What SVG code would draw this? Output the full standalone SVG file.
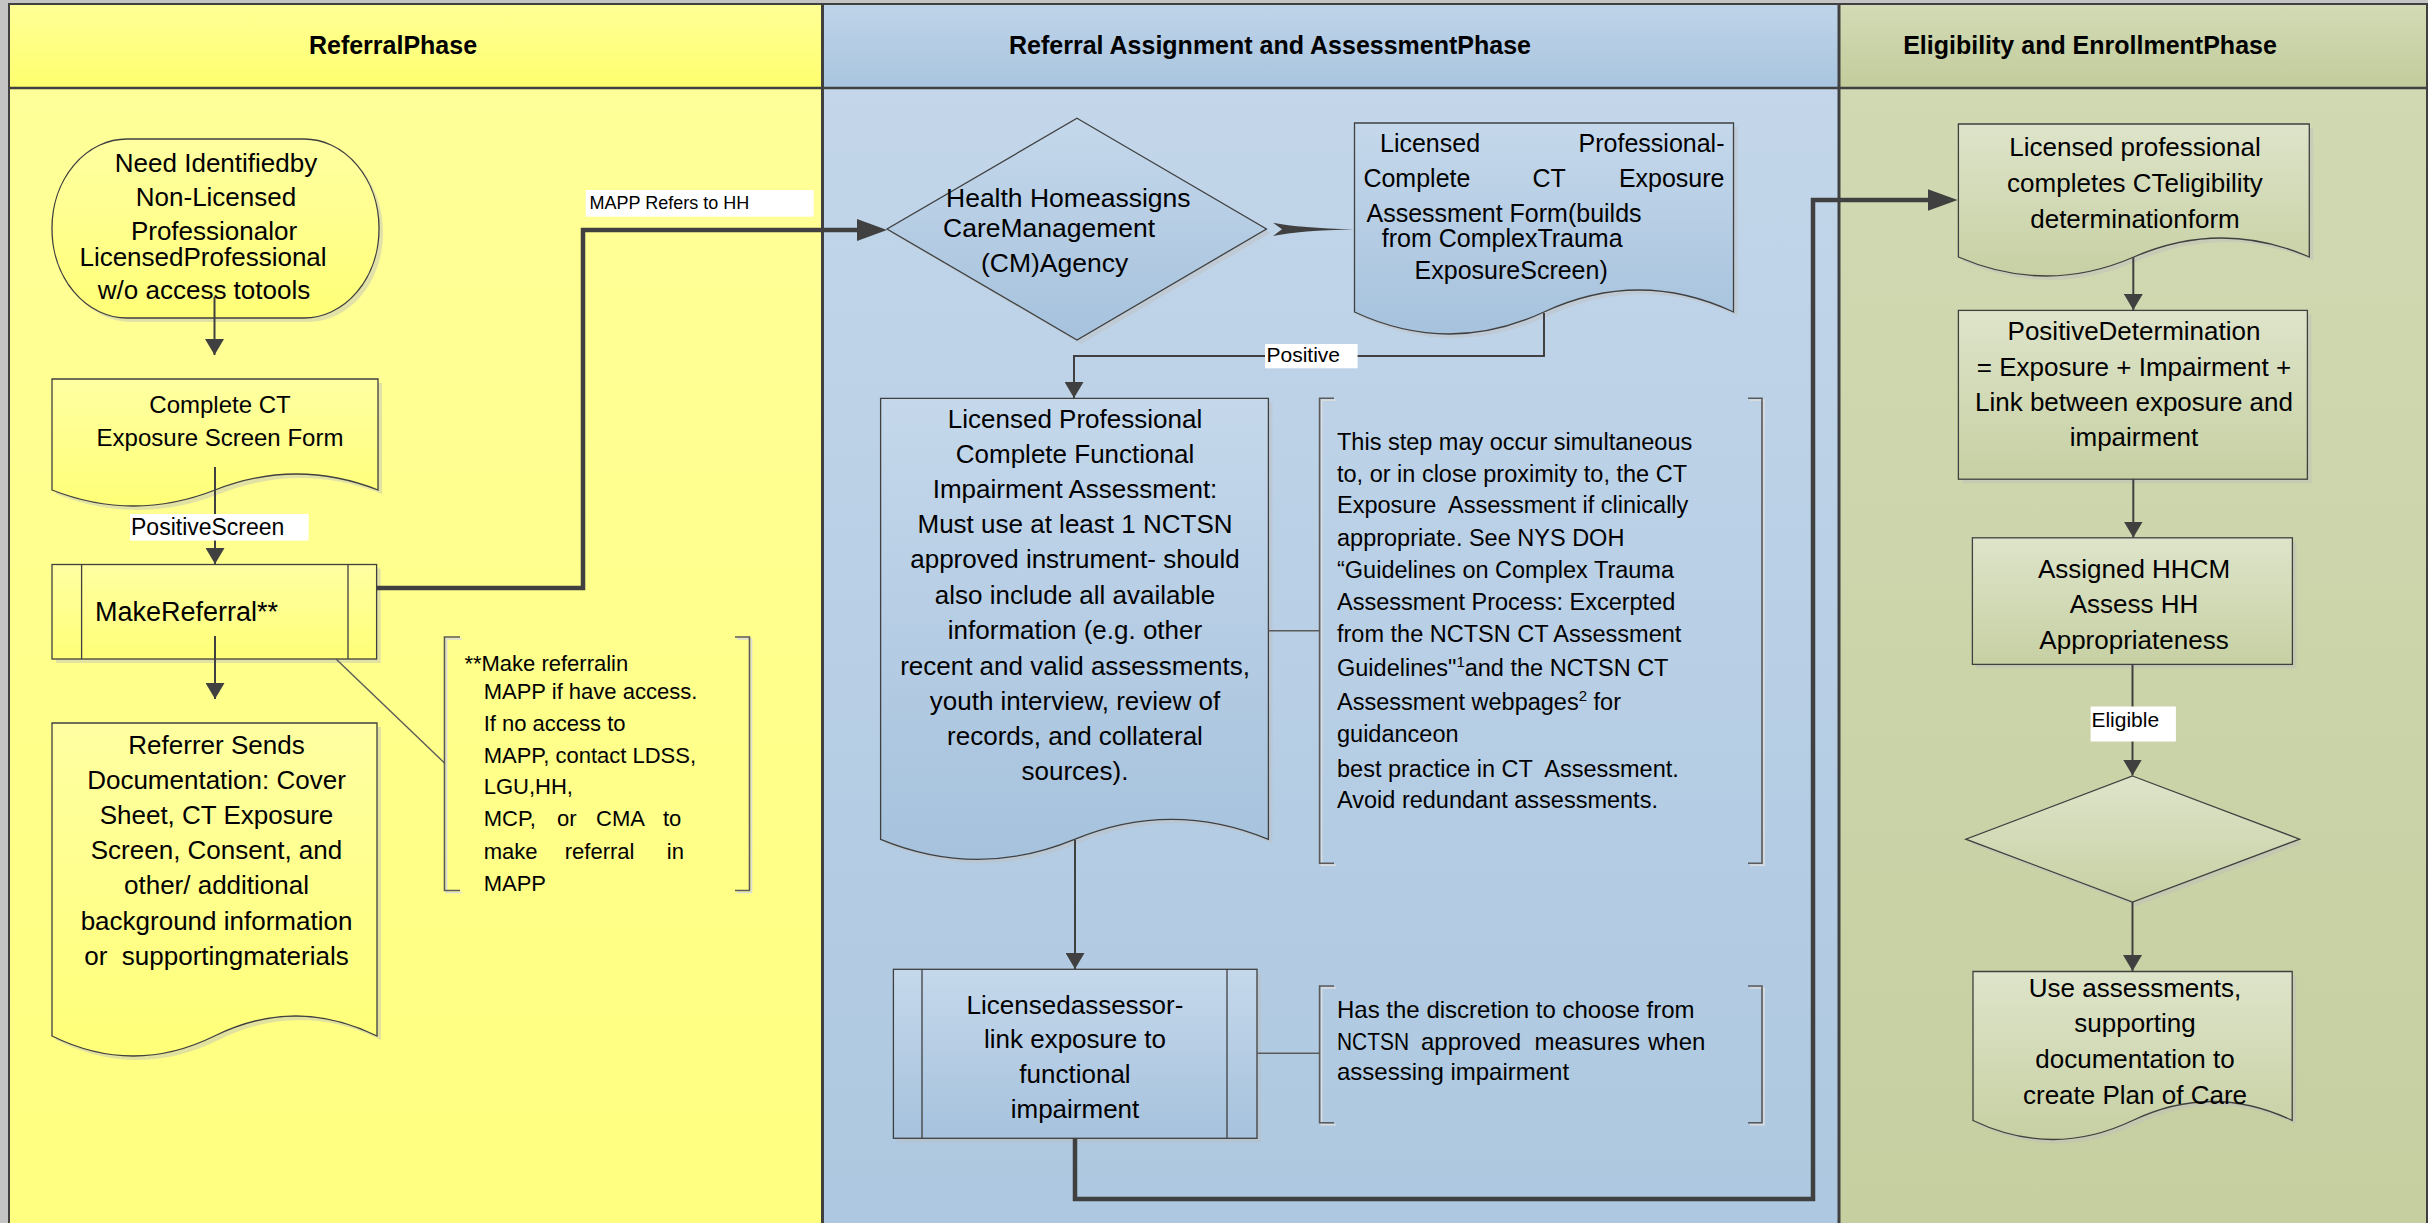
<svg xmlns="http://www.w3.org/2000/svg" width="2428" height="1223" viewBox="0 0 2428 1223">
<defs>
<style>
.t{font-family:"Liberation Sans",Arial,sans-serif;fill:#000}
.h{font-weight:bold;font-size:25px}
.m{text-anchor:middle}
.e{text-anchor:end}
.node{stroke:#404040;stroke-width:1.3}
.sh{fill:#BEBEBE;opacity:.45;stroke:none}
.ln{fill:none;stroke:#404040;stroke-width:2}
.thick{fill:none;stroke:#404040;stroke-width:4.5}
.thin{fill:none;stroke:#5A5A5A;stroke-width:1.4}
.br{fill:none;stroke:#5A5A5A;stroke-width:1.6}
.brs{fill:none;stroke:#DDDDDD;stroke-width:1.6}
.lbl{fill:#fff}
.bd{stroke:#404040;fill:none}
</style>
<linearGradient id="yH" x1="0" y1="0" x2="0" y2="1"><stop offset="0" stop-color="#FFFF96"/><stop offset="1" stop-color="#FFFF6E"/></linearGradient>
<linearGradient id="yB" x1="0" y1="0" x2="0" y2="1"><stop offset="0" stop-color="#FFFF99"/><stop offset="1" stop-color="#FFFF80"/></linearGradient>
<linearGradient id="bH" x1="0" y1="0" x2="0" y2="1"><stop offset="0" stop-color="#BFD4E9"/><stop offset="1" stop-color="#A9C5DF"/></linearGradient>
<linearGradient id="bB" x1="0" y1="0" x2="0" y2="1"><stop offset="0" stop-color="#C3D6EA"/><stop offset="1" stop-color="#ADC8E0"/></linearGradient>
<linearGradient id="gH" x1="0" y1="0" x2="0" y2="1"><stop offset="0" stop-color="#D3DBB6"/><stop offset="1" stop-color="#C2CC9B"/></linearGradient>
<linearGradient id="gB" x1="0" y1="0" x2="0" y2="1"><stop offset="0" stop-color="#D1D9B3"/><stop offset="1" stop-color="#C6CFA0"/></linearGradient>
<linearGradient id="yN" x1="0" y1="0" x2="0" y2="1"><stop offset="0" stop-color="#FFFFA2"/><stop offset="1" stop-color="#FFFF78"/></linearGradient>
<linearGradient id="bN" x1="0" y1="0" x2="0" y2="1"><stop offset="0" stop-color="#C5D8EB"/><stop offset="1" stop-color="#A6C2DD"/></linearGradient>
<linearGradient id="gN" x1="0" y1="0" x2="0" y2="1"><stop offset="0" stop-color="#DEE4CA"/><stop offset="1" stop-color="#C7D0A3"/></linearGradient>
<marker id="ah" markerUnits="userSpaceOnUse" viewBox="0 0 16 19" markerWidth="16" markerHeight="19" refX="16" refY="9.5" orient="auto"><path d="M0,0 L16,9.5 L0,19 Z" fill="#404040"/></marker>
<marker id="ahb" markerUnits="userSpaceOnUse" viewBox="0 0 30 22" markerWidth="30" markerHeight="22" refX="15" refY="11" orient="auto"><path d="M0,0 L30,11 L0,22 Z" fill="#404040"/></marker>
</defs>

<!-- background and lanes -->
<g id="lanes">
<rect x="0" y="0" width="2428" height="1223" fill="#C4C4C4"/>
<rect x="9" y="4" width="813" height="84" fill="url(#yH)"/>
<rect x="9" y="88" width="813" height="1135" fill="url(#yB)"/>
<rect x="822" y="4" width="1017" height="84" fill="url(#bH)"/>
<rect x="822" y="88" width="1017" height="1135" fill="url(#bB)"/>
<rect x="1839" y="4" width="1589" height="84" fill="url(#gH)"/>
<rect x="1839" y="88" width="1589" height="1135" fill="url(#gB)"/>
<path class="bd" stroke-width="2" d="M8,4 H2428"/>
<path class="bd" stroke-width="2" d="M9,4 V1223"/>
<path class="bd" stroke-width="2.5" d="M9,88 H2428"/>
<path class="bd" stroke-width="3" d="M822.5,4 V1223"/>
<path class="bd" stroke-width="3" d="M1839,4 V1223"/>
<path class="bd" stroke-width="2" d="M2427,4 V1223"/>
<text class="t h m" x="393" y="54">ReferralPhase</text>
<text class="t h m" x="1270" y="54">Referral Assignment and AssessmentPhase</text>
<text class="t h m" x="2090" y="54">Eligibility and EnrollmentPhase</text>
</g>

<!-- Lane 1 nodes -->
<g id="need-identified">
<rect class="sh" x="56" y="143" width="327" height="179" rx="75" ry="89"/>
<rect class="node" fill="url(#yN)" x="52" y="139" width="327" height="179" rx="75" ry="89"/>
<g class="t" font-size="26">
<text class="m" x="216" y="172">Need Identifiedby</text>
<text class="m" x="216" y="206">Non-Licensed</text>
<text class="m" x="214" y="240">Professionalor</text>
<text class="m" x="203" y="266">LicensedProfessional</text>
<text class="m" x="204" y="299">w/o access totools</text>
</g>
</g>

<g id="complete-ct-screen">
<path class="sh" transform="translate(4,4)" d="M52,379 H378 V490 Q296.5,458 215,490 Q133.5,522 52,490 Z"/>
<path class="node" fill="url(#yN)" d="M52,379 H378 V490 Q296.5,458 215,490 Q133.5,522 52,490 Z"/>
<g class="t" font-size="24">
<text class="m" x="220" y="413">Complete CT</text>
<text class="m" x="220" y="446">Exposure Screen Form</text>
</g>
</g>

<g id="make-referral">
<rect class="sh" x="56" y="568.5" width="324.6" height="94.5"/>
<rect class="node" fill="url(#yN)" x="52" y="564.5" width="324.6" height="94.5"/>
<path class="node" fill="none" d="M81.6,564.5 V659 M348,564.5 V659"/>
<text class="t" font-size="27" x="95" y="621">MakeReferral**</text>
</g>

<g id="referrer-sends">
<path class="sh" transform="translate(4,4)" d="M52,723 H377 V1036 Q295.75,996 214.5,1036 Q133.25,1076 52,1036 Z"/>
<path class="node" fill="url(#yN)" d="M52,723 H377 V1036 Q295.75,996 214.5,1036 Q133.25,1076 52,1036 Z"/>
<g class="t m" font-size="26">
<text x="216.5" y="754">Referrer Sends</text>
<text x="216.5" y="789">Documentation: Cover</text>
<text x="216.5" y="824">Sheet, CT Exposure</text>
<text x="216.5" y="859">Screen, Consent, and</text>
<text x="216.5" y="894">other/ additional</text>
<text x="216.5" y="930">background information</text>
<text x="216.5" y="965" xml:space="preserve">or  supportingmaterials</text>
</g>
</g>

<g id="note-make-referral">
<path class="thin" d="M336,659 L444.5,763"/>
<path class="brs" transform="translate(2,2)" d="M460,637 H444.5 V890.5 H460 M735,637 H749.5 V890.5 H735"/>
<path class="br" d="M460,637 H444.5 V890.5 H460 M735,637 H749.5 V890.5 H735"/>
<g class="t" font-size="22">
<text x="464.4" y="671">**Make referralin</text>
<text x="483.7" y="699">MAPP if have access.</text>
<text x="483.7" y="731">If no access to</text>
<text x="483.7" y="763">MAPP, contact LDSS,</text>
<text x="483.7" y="794">LGU,HH,</text>
<text y="826"><tspan x="483.7">MCP,</tspan><tspan x="557">or</tspan><tspan x="596">CMA</tspan><tspan x="663">to</tspan></text>
<text y="859"><tspan x="483.7">make</tspan><tspan x="564.8">referral</tspan><tspan x="666.8">in</tspan></text>
<text x="483.7" y="891">MAPP</text>
</g>
</g>

<!-- Lane 2 nodes -->
<g id="hh-assigns">
<polygon class="sh" transform="translate(4,4)" points="1077,118.3 1266.5,229 1077,340 887,229"/>
<polygon class="node" fill="url(#bN)" points="1077,118.3 1266.5,229 1077,340 887,229"/>
<g class="t" font-size="26.5">
<text x="946" y="207">Health Homeassigns</text>
<text x="943" y="237">CareManagement</text>
<text x="981" y="272">(CM)Agency</text>
</g>
</g>

<g id="ct-exposure-assessment">
<path class="sh" transform="translate(4,4)" d="M1354.5,123 H1733.5 V312 Q1638.75,268 1544,312 Q1449.25,356 1354.5,312 Z"/>
<path class="node" fill="url(#bN)" d="M1354.5,123 H1733.5 V312 Q1638.75,268 1544,312 Q1449.25,356 1354.5,312 Z"/>
<g class="t" font-size="25">
<text x="1380" y="152">Licensed</text>
<text class="e" x="1724.5" y="152">Professional-</text>
<text x="1363.4" y="187">Complete</text>
<text x="1532.4" y="187">CT</text>
<text class="e" x="1724.5" y="187">Exposure</text>
<text x="1366.5" y="222">Assessment Form(builds</text>
<text x="1381.8" y="247">from ComplexTrauma</text>
<text x="1414.6" y="278.5">ExposureScreen)</text>
</g>
</g>

<g id="functional-assessment">
<path class="sh" transform="translate(4,4)" d="M880.6,398.3 H1268.4 V839.3 Q1171.45,799.3 1074.5,839.3 Q977.55,879.3 880.6,839.3 Z"/>
<path class="node" fill="url(#bN)" d="M880.6,398.3 H1268.4 V839.3 Q1171.45,799.3 1074.5,839.3 Q977.55,879.3 880.6,839.3 Z"/>
<g class="t m" font-size="26">
<text x="1075" y="428">Licensed Professional</text>
<text x="1075" y="463">Complete Functional</text>
<text x="1075" y="498">Impairment Assessment:</text>
<text x="1075" y="533">Must use at least 1 NCTSN</text>
<text x="1075" y="568">approved instrument- should</text>
<text x="1075" y="604">also include all available</text>
<text x="1075" y="639">information (e.g. other</text>
<text x="1075" y="675">recent and valid assessments,</text>
<text x="1075" y="710">youth interview, review of</text>
<text x="1075" y="745">records, and collateral</text>
<text x="1075" y="780">sources).</text>
</g>
</g>

<g id="note-simultaneous">
<path class="thin" d="M1268.4,630.7 H1319.6"/>
<path class="brs" transform="translate(2,2)" d="M1334,398.3 H1319.6 V863.3 H1334 M1748,398.3 H1762 V863.3 H1748"/>
<path class="br" d="M1334,398.3 H1319.6 V863.3 H1334 M1748,398.3 H1762 V863.3 H1748"/>
<g class="t" font-size="23.5">
<text x="1337" y="450">This step may occur simultaneous</text>
<text x="1337" y="482">to, or in close proximity to, the CT</text>
<text x="1337" y="513" xml:space="preserve">Exposure  Assessment if clinically</text>
<text x="1337" y="546">appropriate. See NYS DOH</text>
<text x="1337" y="578">“Guidelines on Complex Trauma</text>
<text x="1337" y="610">Assessment Process: Excerpted</text>
<text x="1337" y="642">from the NCTSN CT Assessment</text>
<text x="1337" y="676">Guidelines"<tspan dy="-9" font-size="15">1</tspan><tspan dy="9">and the NCTSN CT</tspan></text>
<text x="1337" y="710">Assessment webpages<tspan dy="-9" font-size="15">2</tspan><tspan dy="9"> for</tspan></text>
<text x="1337" y="742">guidanceon</text>
<text x="1337" y="777" xml:space="preserve">best practice in CT  Assessment.</text>
<text x="1337" y="808">Avoid redundant assessments.</text>
</g>
</g>

<g id="link-exposure">
<rect class="sh" x="897.4" y="973.3" width="363.6" height="169"/>
<rect class="node" fill="url(#bN)" x="893.4" y="969.3" width="363.6" height="169"/>
<path class="node" fill="none" d="M922,969.3 V1138.3 M1227,969.3 V1138.3"/>
<g class="t m" font-size="26">
<text x="1075" y="1014">Licensedassessor-</text>
<text x="1075" y="1048">link exposure to</text>
<text x="1075" y="1083">functional</text>
<text x="1075" y="1118">impairment</text>
</g>
</g>

<g id="note-discretion">
<path class="thin" d="M1257,1053.3 H1319.6"/>
<path class="brs" transform="translate(2,2)" d="M1334,986 H1319.6 V1122.7 H1334 M1748,986 H1762 V1122.7 H1748"/>
<path class="br" d="M1334,986 H1319.6 V1122.7 H1334 M1748,986 H1762 V1122.7 H1748"/>
<g class="t" font-size="24">
<text x="1337" y="1017.5">Has the discretion to choose from</text>
<text y="1049.5"><tspan x="1337" textLength="72" lengthAdjust="spacingAndGlyphs">NCTSN</tspan><tspan x="1421">approved</tspan><tspan x="1534.6">measures</tspan><tspan x="1648">when</tspan></text>
<text x="1337" y="1080">assessing impairment</text>
</g>
</g>

<!-- Lane 3 nodes -->
<g id="eligibility-form">
<path class="sh" transform="translate(4,4)" d="M1958.4,124 H2309.3 V257 Q2221.6,219 2133.85,257 Q2046.1,295 1958.4,257 Z"/>
<path class="node" fill="url(#gN)" d="M1958.4,124 H2309.3 V257 Q2221.6,219 2133.85,257 Q2046.1,295 1958.4,257 Z"/>
<g class="t m" font-size="26">
<text x="2135" y="156">Licensed professional</text>
<text x="2135" y="192">completes CTeligibility</text>
<text x="2135" y="227.5">determinationform</text>
</g>
</g>

<g id="positive-determination">
<rect class="sh" x="1962.4" y="314.4" width="349" height="168.8"/>
<rect class="node" fill="url(#gN)" x="1958.4" y="310.4" width="349" height="168.8"/>
<g class="t m" font-size="26">
<text x="2134" y="340">PositiveDetermination</text>
<text x="2134" y="375.6">= Exposure + Impairment +</text>
<text x="2134" y="411">Link between exposure and</text>
<text x="2134" y="446">impairment</text>
</g>
</g>

<g id="assigned-hhcm">
<rect class="sh" x="1976.4" y="541.8" width="320" height="126.6"/>
<rect class="node" fill="url(#gN)" x="1972.4" y="537.8" width="320" height="126.6"/>
<g class="t m" font-size="26">
<text x="2134" y="578">Assigned HHCM</text>
<text x="2134" y="613">Assess HH</text>
<text x="2134" y="648.5">Appropriateness</text>
</g>
</g>

<g id="decision">
<polygon class="sh" transform="translate(4,4)" points="2132.5,776 2299.6,839.2 2132.5,902 1965.8,839.2"/>
<polygon class="node" fill="url(#gN)" points="2132.5,776 2299.6,839.2 2132.5,902 1965.8,839.2"/>
</g>

<g id="plan-of-care">
<path class="sh" transform="translate(4,4)" d="M1973,971.5 H2292.2 V1120.5 Q2212.4,1082.5 2132.6,1120.5 Q2052.8,1158.5 1973,1120.5 Z"/>
<path class="node" fill="url(#gN)" d="M1973,971.5 H2292.2 V1120.5 Q2212.4,1082.5 2132.6,1120.5 Q2052.8,1158.5 1973,1120.5 Z"/>
<g class="t m" font-size="26">
<text x="2135" y="997">Use assessments,</text>
<text x="2135" y="1032">supporting</text>
<text x="2135" y="1068">documentation to</text>
<text x="2135" y="1104">create Plan of Care</text>
</g>
</g>

<!-- Connectors -->
<g id="connectors">
<path class="ln" marker-end="url(#ah)" d="M214.5,297 V355"/>
<path class="ln" marker-end="url(#ah)" d="M215,467 V564"/>
<rect class="lbl" x="130" y="514" width="178.6" height="26.6"/>
<text class="t" font-size="23" x="131" y="535">PositiveScreen</text>
<path class="ln" marker-end="url(#ah)" d="M215,636 V699"/>
<path class="thick" marker-end="url(#ahb)" d="M376.6,588 H583 V230 H872"/>
<rect class="lbl" x="585.7" y="190" width="228" height="26.7"/>
<text class="t" font-size="18" x="589.5" y="208.5">MAPP Refers to HH</text>
<path fill="#404040" d="M1273,222.7 Q1300,228 1354,229.3 Q1300,230.6 1273,236 L1282,229.3 Z"/>
<path class="ln" marker-end="url(#ah)" d="M1544,313 V356 H1074 V398"/>
<rect class="lbl" x="1265" y="344" width="92.6" height="24.3"/>
<text class="t" font-size="21" x="1266.5" y="362">Positive</text>
<path class="ln" marker-end="url(#ah)" d="M1075,840 V969"/>
<path class="thick" marker-end="url(#ahb)" d="M1075,1138.3 V1199 H1813 V200 H1942.6"/>
<path class="ln" marker-end="url(#ah)" d="M2133.3,257 V310"/>
<path class="ln" marker-end="url(#ah)" d="M2133.3,479.2 V537.5"/>
<path class="ln" marker-end="url(#ah)" d="M2132.5,664.4 V775.5"/>
<rect class="lbl" x="2090.6" y="706.5" width="85.3" height="35"/>
<text class="t" font-size="21" x="2091.4" y="727">Eligible</text>
<path class="ln" marker-end="url(#ah)" d="M2132.5,902 V971"/>
</g>
</svg>
